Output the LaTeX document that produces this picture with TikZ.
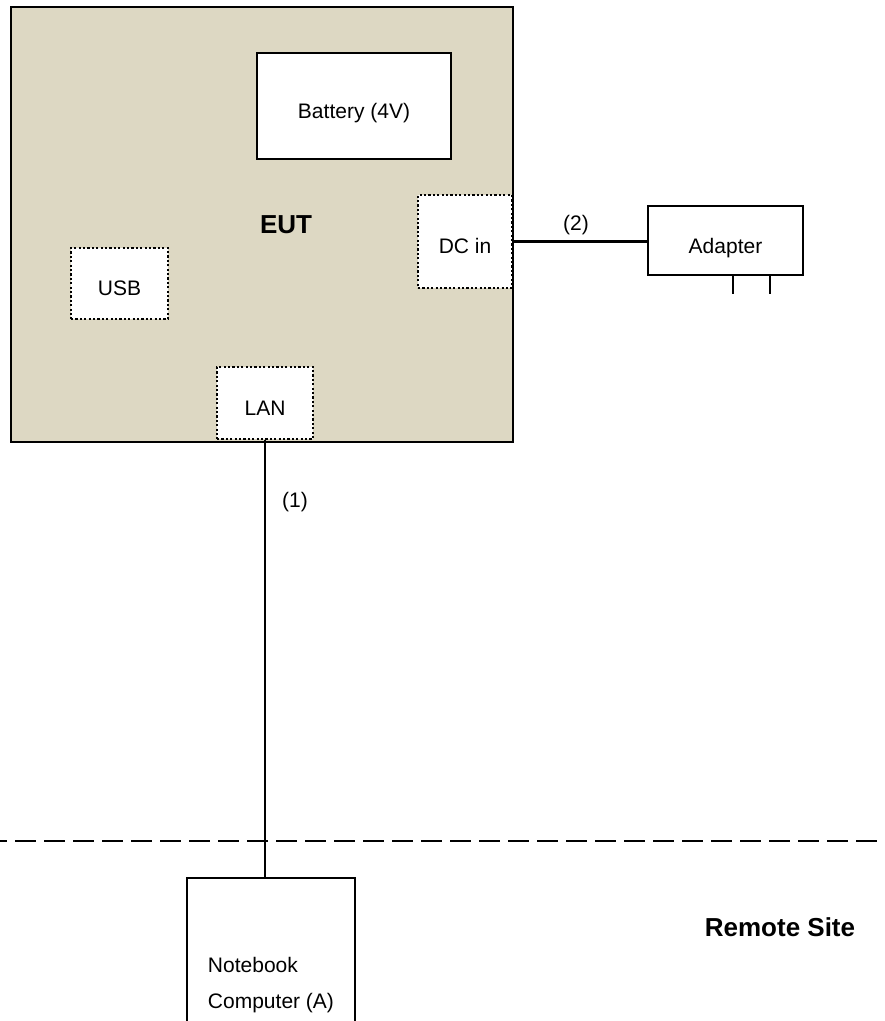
\documentclass[tikz,border=0pt]{standalone}
\usepackage{fontspec}
\setmainfont{Liberation Sans}
\usetikzlibrary{positioning}
\definecolor{eutbeige}{RGB}{221,216,195}

\begin{document}
\begin{tikzpicture}[x=0.5pt,y=-0.5pt,
every node/.style={font=\fontsize{10.5}{18}\selectfont},
unit/.style={draw, line width=1.2pt, fill=white, inner sep=0pt, text height=13pt, text depth=0pt},
port/.style={draw, line width=1.1pt, dash pattern=on 1.1pt off 1.1pt, fill=white, inner sep=0pt, text height=12pt, text depth=0pt},
big/.style={font=\fontsize{13}{15}\selectfont\bfseries},
wire/.style={line width=1.1pt},
divider/.style={line width=1.3pt, dash pattern=on 10.5pt off 4pt, dash phase=7pt}
]
\useasboundingbox (0,0) rectangle (884,1021);

\node[draw, line width=1.3pt, fill=eutbeige, minimum width=251pt, minimum height=217.5pt] (eut) at (262,224.5) {};
\node[big] (eutlabel) at (286,225) {EUT};

\node[unit, minimum width=97pt, minimum height=53pt] (battery) at (354,106) {Battery (4V)};
\node[port, minimum width=47pt, minimum height=46.5pt] (dcin) at (465,241.5) {DC in};
\node[port, minimum width=48.5pt, minimum height=35.5pt] (usb) at (119.5,283.5) {USB};
\node[port, minimum width=48pt, minimum height=36pt] (lan) at (265,403) {LAN};

\node[unit, minimum width=77.5pt, minimum height=34.5pt] (adapter) at (725.5,240.5) {Adapter};
\draw[wire] ([xshift=3.75pt]adapter.south) -- ++(0,18);
\draw[wire] ([xshift=22.25pt]adapter.south) -- ++(0,18);

\node[draw, line width=1.2pt, fill=white, inner sep=0pt, minimum width=84pt, minimum height=107pt, align=left] (nb) at (271,985) {Notebook\\Computer (A)};

% cables
\draw[wire] (dcin.east) -- (dcin.east -| adapter.west);
\node (lbltwo) at (576,225) {(2)};
\draw[wire] (lan.south) -- (lan.south |- nb.north);
\node (lblone) at (295,502) {(1)};

% site border
\coordinate (divleft) at (0,841);
\coordinate (divright) at (884,841);
\draw[divider] (divleft) -- (divright);
\node[big] (remote) at (780,927) {Remote Site};

\end{tikzpicture}
\end{document}
